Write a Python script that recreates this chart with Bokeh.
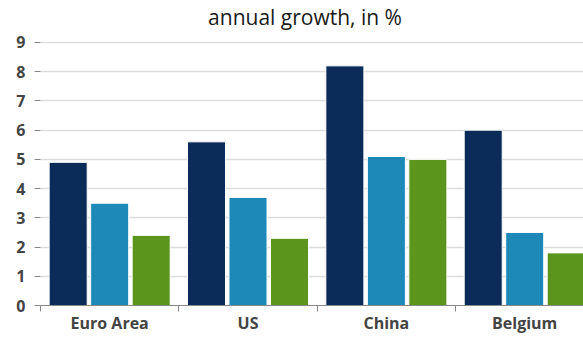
from bokeh.plotting import figure
from bokeh.models import Range1d, FixedTicker, Legend, LegendItem, ColumnDataSource, Label
from bokeh.embed import file_html
from bokeh.resources import INLINE

categories = ["Euro Area", "US", "China", "Belgium"]
years = ["2021", "2022", "2023"]
v2021 = [4.9, 5.6, 8.2, 6.0]
v2022 = [3.5, 3.7, 5.1, 2.5]
v2023 = [2.4, 2.3, 5.0, 1.8]
series = [v2021, v2022, v2023]
colors = ["#0b2c59", "#1c89b8", "#5b951b"]
y_ticks = list(range(0, 10))
subtitle = "annual growth, in %"

FONT = "Open Sans"

# frame spans the full top of the canvas; the y range reaches above 9 to leave room for the subtitle
p = figure(frame_width=543, frame_height=305, output_backend="svg", toolbar_location=None,
           x_range=Range1d(0, 3.925), y_range=Range1d(0, 10.437),
           min_border_left=40, min_border_right=0, min_border_top=0, min_border_bottom=0)
p.outline_line_color = None
p.background_fill_color = "white"

p.add_layout(Label(x=1.912, y=9.856, text=subtitle, text_align="center", text_baseline="middle",
                   text_font=FONT, text_font_size="21px", text_color="#1a1a1a"))

offsets = [0.2, 0.5, 0.8]
renderers = []
for k, vals in enumerate(series):
    src = ColumnDataSource(dict(x=[i + offsets[k] for i in range(len(categories))], top=vals))
    r = p.vbar(x="x", top="top", width=0.275, bottom=0, source=src,
               fill_color=colors[k], line_color="white", line_width=1)
    renderers.append(r)

# x axis
xa = p.xaxis[0]
xa.ticker = FixedTicker(ticks=[i + 0.5 for i in range(len(categories))],
                        minor_ticks=list(range(len(categories) + 1)))
xa.major_label_overrides = {i + 0.5: c for i, c in enumerate(categories)}
xa.major_tick_out = 0
xa.major_tick_in = 0
xa.minor_tick_out = 6
xa.minor_tick_in = 0
xa.minor_tick_line_color = "#888888"
xa.axis_line_color = "#888888"
xa.axis_line_width = 1
xa.major_label_text_font = FONT
xa.major_label_text_font_style = "bold"
xa.major_label_text_font_size = "16px"
xa.major_label_text_color = "#444444"
xa.major_label_standoff = 0

# y axis
ya = p.yaxis[0]
ya.ticker = FixedTicker(ticks=y_ticks)
ya.axis_line_color = None
ya.major_tick_out = 6
ya.major_tick_in = 0
ya.major_tick_line_color = "#888888"
ya.minor_tick_line_color = None
ya.major_label_text_font = FONT
ya.major_label_text_font_style = "bold"
ya.major_label_text_font_size = "16px"
ya.major_label_text_color = "#444444"
ya.major_label_standoff = 9

p.xgrid.grid_line_color = None
p.ygrid.ticker = FixedTicker(ticks=y_ticks)
p.ygrid.grid_line_color = "#dcdcdc"
p.ygrid.grid_line_width = 1.5

legend = Legend(items=[LegendItem(label=y, renderers=[renderers[k]]) for k, y in enumerate(years)],
                orientation="horizontal", location="top_center")
legend.border_line_color = None
legend.background_fill_alpha = 0
legend.label_text_font = FONT
legend.label_text_font_style = "bold"
legend.label_text_font_size = "15px"
legend.label_text_color = "#111111"
legend.glyph_width = 13
legend.glyph_height = 13
legend.label_standoff = 4
legend.spacing = 6
legend.padding = 0
legend.margin = 5
legend.label_height = 13
p.add_layout(legend, "below")

open("out.html", "w").write(file_html(p, INLINE))
